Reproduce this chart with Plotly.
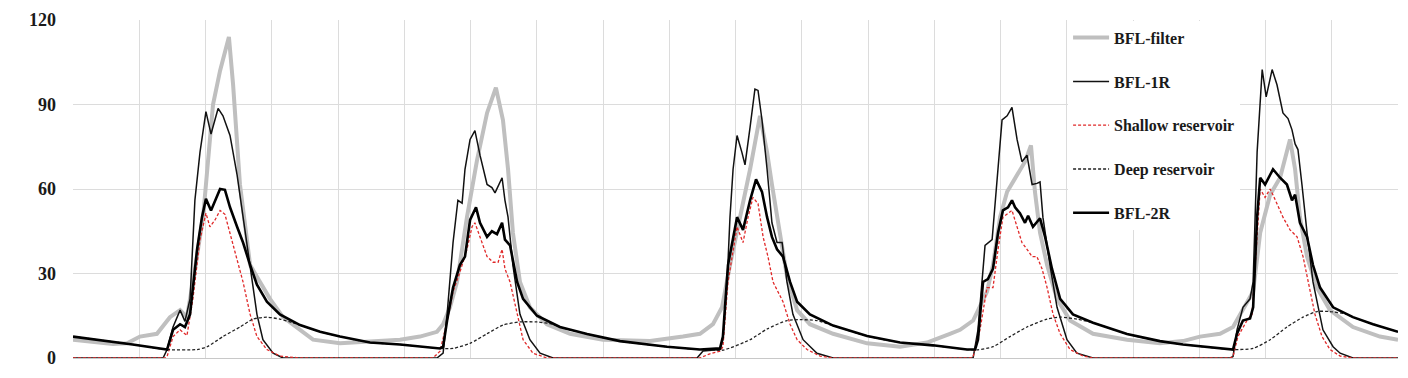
import plotly.graph_objects as go

# x in months from start of record; y values (same unit as chart)
filter_x = [0, 1.81, 2.45, 3.03, 3.80, 4.39, 4.85, 5.16, 5.43, 5.89, 6.34, 6.66, 7.06, 7.25, 7.56, 8.02, 8.47, 8.92, 9.51, 10.28, 10.87, 12.09, 14.81, 15.71, 16.48, 16.76, 17.07, 17.39, 17.84, 18.29, 18.75, 19.15, 19.47, 19.70, 19.92, 20.24, 20.69, 21.46, 22.51, 24.00, 26.13, 27.62, 28.39, 28.98, 29.39, 29.75, 30.20, 30.66, 31.11, 31.43, 31.65, 32.02, 32.33, 32.79, 33.37, 34.42, 35.96, 37.45, 38.67, 39.71, 40.17, 40.76, 41.07, 41.39, 41.66, 41.98, 42.30, 42.75, 43.11, 43.38, 43.56, 43.79, 44.11, 44.56, 45.15, 46.19, 47.73, 49.22, 50.26, 51.03, 51.94, 52.53, 52.98, 53.44, 53.76, 54.21, 54.66, 54.97, 55.11, 55.34, 55.56, 55.88, 56.33, 56.92, 57.96, 59.18, 60.0]
filter_y = [6.5, 5.0, 5.2, 7.6, 8.6, 14.5, 17, 14.5, 27, 50, 90, 102, 114, 97, 61.6, 33, 27, 21, 14.5, 10, 6.5, 5.2, 6.5, 7.6, 9.3, 12, 18, 27, 50, 70, 87, 96, 84.5, 67, 44.5, 27, 18, 12, 8.6, 6.5, 6, 7.6, 8.6, 12, 18, 33, 50, 67, 86, 73, 61.6, 44.5, 29, 17, 12, 8.6, 5.2, 4, 5.5, 8.6, 10, 13.3, 18, 23.6, 33, 50, 59, 65, 69.7, 75.5, 59, 44.5, 33, 21, 13.3, 8.6, 6.5, 5.2, 6, 7.6, 8.6, 11, 17, 23.6, 44.5, 58, 64, 73, 77.6, 67, 50, 36, 25, 17, 11, 7.6, 6.5]

r1_x = [0, 4.08, 4.26, 4.53, 4.85, 5.07, 5.30, 5.52, 5.75, 6.02, 6.25, 6.57, 6.79, 7.11, 7.43, 7.70, 8.02, 8.33, 8.60, 9.06, 9.51,
        16.48, 16.76, 16.94, 17.21, 17.43, 17.62, 17.75, 17.98, 18.20, 18.43, 18.75, 18.97, 19.11, 19.43, 19.56, 19.70, 19.92, 20.24, 20.69, 21.15, 21.74,
        28.26, 28.53, 29.30, 29.43, 29.62, 29.75, 29.89, 30.07, 30.29, 30.43, 30.66, 30.88, 31.02, 31.20, 31.43, 31.65, 31.88, 32.11, 32.33, 32.60, 33.06, 33.69, 34.42,
        40.76, 40.98, 41.16, 41.30, 41.62, 41.84, 42.07, 42.30, 42.52, 42.75, 42.97, 43.20, 43.43, 43.65, 43.79, 43.92, 44.24, 44.56, 45.01, 45.46, 46.19,
        52.39, 52.53, 52.71, 52.98, 53.30, 53.44, 53.62, 53.85, 54.03, 54.30, 54.52, 54.79, 55.02, 55.20, 55.34, 55.47, 55.65, 55.88, 56.15, 56.60, 57.06, 57.38, 57.96, 60]
r1_y = [0, 0, 3, 11, 17, 13, 21, 56, 73, 87.5, 79.5, 88.6, 86, 79, 65, 50, 33, 15.5, 6.5, 1.7, 0,
        0, 1.7, 15.5, 41, 56, 55, 67, 77.6, 80.7, 72, 61.6, 60.5, 58.6, 64, 56, 50, 33, 15.5, 6.5, 1.7, 0,
        0, 2.5, 3, 6.5, 27, 50, 67, 79, 73, 68.6, 82, 95.5, 95, 84.5, 67, 48, 41, 41, 27, 15.5, 6.5, 1.7, 0,
        0, 10, 27, 40, 42, 61.6, 84.5, 86, 89, 77.6, 69.7, 72, 61.6, 62, 62.5, 50, 33, 18, 6.5, 1.7, 0,
        0, 0.5, 10, 18, 21, 27, 73, 102.4, 92.7, 102.4, 97, 87, 85, 81, 76, 74, 61.6, 44.5, 27, 10, 4, 1.7, 0, 0]

shallow_x = [0, 4.17, 4.26, 4.53, 4.85, 5.16, 5.43, 5.75, 6.02, 6.20, 6.43, 6.66, 6.88, 7.11, 7.43, 7.70, 8.02, 8.33, 8.78, 9.37, 10.28,
             16.30, 16.62, 16.94, 17.21, 17.52, 17.84, 18.07, 18.20, 18.43, 18.75, 19.02, 19.25, 19.43, 19.56, 19.79, 20.11, 20.38, 20.83, 21.46,
             28.39, 28.84, 29.30, 29.43, 29.66, 29.89, 30.07, 30.34, 30.57, 30.79, 31.02, 31.25, 31.47, 31.70, 31.92, 32.15, 32.47, 32.79, 33.24, 33.83, 34.42,
             40.62, 40.76, 41.07, 41.39, 41.66, 41.89, 42.11, 42.52, 42.75, 42.97, 43.20, 43.43, 43.65, 43.88, 44.11, 44.38, 44.70, 45.15, 45.74, 46.19,
             52.39, 52.53, 52.75, 53.16, 53.39, 53.62, 53.76, 53.98, 54.21, 54.52, 54.79, 55.11, 55.43, 55.70, 55.93, 56.24, 56.56, 56.92, 57.38, 57.96, 60]
shallow_y = [0, 0, 0.5, 7.6, 10, 8, 21, 42, 51.4, 46.6, 49, 52.4, 51, 44.5, 35, 27, 15.5, 7.6, 3, 0.7, 0,
             0, 2.4, 13, 23.6, 30.5, 38.6, 46.6, 48, 43, 36, 34, 34, 38.6, 31.7, 27, 15.5, 6.5, 1.7, 0,
             0, 1.5, 2.4, 4, 27, 38.6, 46.6, 41, 50, 57, 54.8, 43, 36, 27, 23.6, 20, 12, 6.5, 3, 0.7, 0,
             0, 0.5, 10, 25, 25, 38.6, 50, 52.4, 46.6, 41, 38.6, 36, 36, 31.7, 25, 15.5, 8.6, 3, 0.7, 0,
             0, 0.5, 7.6, 13.3, 15.5, 44.5, 60, 57, 60, 54.8, 50, 45.5, 43, 36, 27, 15.5, 7.6, 3, 0.7, 0, 0]

deep_x = [0, 1.4, 2.7, 4.26, 5.62, 6.07, 6.79, 7.56, 8.15, 8.78, 9.37, 9.96, 10.28, 11.19, 12.09, 13.45, 14.81, 16.62,
          17.21, 17.98, 18.75, 19.47, 20.24, 21.01, 21.74, 22.05, 23.28, 24.77, 26.90, 28.39, 29.43,
          30.66, 31.43, 32.33, 32.92, 33.69, 34.42, 35.96, 37.45, 38.94, 40.48, 40.94,
          41.66, 42.43, 43.20, 44.11, 44.70, 45.46, 46.19, 47.73, 49.22, 50.26, 52.53,
          53.44, 54.21, 54.97, 55.70, 56.33, 56.92, 57.69, 57.96, 58.87, 60]
deep_y = [7.6, 6.2, 4.8, 3, 3, 4, 7.6, 11, 13.8, 14.5, 13.8, 12.5, 11.7, 9.3, 7.6, 5.5, 4.8, 3.4,
          3.4, 5.2, 8.6, 11.7, 12.8, 12.8, 12, 11, 8.5, 6, 4, 3, 2.8,
          6.5, 10.3, 13.3, 13.6, 13.3, 11.5, 7.8, 5.5, 4.5, 3, 2.9,
          4, 7.6, 11, 13.8, 14.5, 13.8, 12.5, 8.5, 6, 4.8, 3,
          3.4, 6.5, 11, 14.5, 16.5, 16.5, 15.5, 14.5, 12, 9.3]

r2_x = [0, 1.4, 2.7, 4.26, 4.53, 4.85, 5.07, 5.30, 5.62, 5.84, 6.02, 6.25, 6.43, 6.66, 6.88, 7.11, 7.43, 7.70, 8.02, 8.33, 8.78, 9.37, 10.28, 11.19, 12.09, 13.45, 14.81, 16.62,
        16.76, 16.94, 17.21, 17.52, 17.75, 17.98, 18.25, 18.43, 18.75, 18.97, 19.20, 19.43, 19.56, 19.79, 20.11, 20.38, 21.01, 22.05, 23.28, 24.77, 26.90, 28.39, 29.30,
        29.43, 29.66, 29.89, 30.07, 30.34, 30.66, 30.93, 31.20, 31.43, 31.65, 31.88, 32.15, 32.47, 32.79, 33.37, 34.42, 35.96, 37.45, 38.94, 40.48, 40.85,
        40.98, 41.21, 41.43, 41.66, 41.89, 42.11, 42.34, 42.52, 42.66, 42.88, 43.11, 43.25, 43.47, 43.79, 44.02, 44.33, 44.70, 45.28, 46.19, 47.73, 49.22, 50.26, 52.53,
        52.71, 52.98, 53.30, 53.44, 53.62, 53.76, 53.98, 54.34, 54.66, 54.97, 55.20, 55.34, 55.56, 55.88, 56.15, 56.47, 57.06, 57.96, 58.87, 60]
r2_y = [7.6, 6.2, 4.8, 3, 10, 12, 11, 15.5, 38.6, 50, 56.5, 52.4, 56, 60, 59.7, 53.5, 46.6, 41, 33, 26, 20, 15.5, 11.7, 9.3, 7.6, 5.5, 4.8, 3.4,
        4, 13.3, 25, 33, 36, 49, 53.5, 48, 43, 45, 44, 48, 42, 40, 27, 21, 15, 11, 8.5, 6, 4, 3, 3.4,
        7.6, 33, 43, 50, 45.5, 56, 63.4, 59, 50, 43, 38.6, 36, 27, 20, 15.5, 11.5, 7.8, 5.5, 4.5, 3, 3,
        6.5, 27, 28, 31.7, 44.5, 52.4, 53.5, 56, 53.5, 51.4, 48, 50.5, 46.6, 49.6, 43, 31.7, 21, 15.5, 12.5, 8.5, 6, 4.8, 3,
        8.6, 13.3, 14, 18, 50, 64, 61.6, 67, 64, 61.6, 56, 58, 48, 43, 33, 25, 18, 14.5, 12, 9.3]

for a, b in [(filter_x, filter_y), (r1_x, r1_y), (shallow_x, shallow_y), (deep_x, deep_y), (r2_x, r2_y)]:
    assert len(a) == len(b), (len(a), len(b))

y_ticks = [0, 30, 60, 90, 120]

SERIF = "Liberation Serif, Times New Roman, serif"

fig = go.Figure()
fig.add_trace(go.Scatter(x=filter_x, y=filter_y, mode="lines", name="BFL-filter", legendgroup="a",
                         line=dict(color="#bfbfbf", width=4)))
fig.add_trace(go.Scatter(x=r1_x, y=r1_y, mode="lines", name="BFL-1R", legendgroup="b",
                         line=dict(color="#111111", width=1.5)))
fig.add_trace(go.Scatter(x=shallow_x, y=shallow_y, mode="lines", name="Shallow reservoir", legendgroup="c",
                         line=dict(color="#e02828", width=1.3, dash="3px,2px")))
fig.add_trace(go.Scatter(x=deep_x, y=deep_y, mode="lines", name="Deep reservoir", legendgroup="d",
                         line=dict(color="#222222", width=1.3, dash="3px,2px", shape="spline", smoothing=0.6)))
fig.add_trace(go.Scatter(x=r2_x, y=r2_y, mode="lines", name="BFL-2R", legendgroup="e",
                         line=dict(color="#000000", width=2.6)))

fig.update_layout(
    width=1408, height=378,
    margin=dict(l=73, r=10, t=14, b=16),
    paper_bgcolor="white", plot_bgcolor="white",
    font=dict(family=SERIF, size=15, color="#1a1a1a"),
    showlegend=True,
    legend=dict(x=0.751, y=0.998, xanchor="left", yanchor="top",
                bgcolor="white", borderwidth=0,
                font=dict(family=SERIF, size=16, color="#1a1a1a", weight="bold"),
                traceorder="grouped", tracegroupgap=20, itemwidth=36),
    xaxis=dict(range=[0, 60], dtick=3, tick0=0, showticklabels=False,
               showgrid=True, gridcolor="#dcdcdc", gridwidth=1,
               zeroline=False, showline=True, linecolor="#c8c8c8", linewidth=1, mirror=False,
               ticks=""),
    yaxis=dict(range=[0, 120], tickvals=y_ticks, ticktext=[str(v) for v in y_ticks],
               showgrid=True, gridcolor="#dcdcdc", gridwidth=1, zeroline=False,
               tickfont=dict(family=SERIF, size=18, color="#1a1a1a", weight="bold"),
               ticks="", ticklabelstandoff=16),
)

fig.write_html("out.html")
